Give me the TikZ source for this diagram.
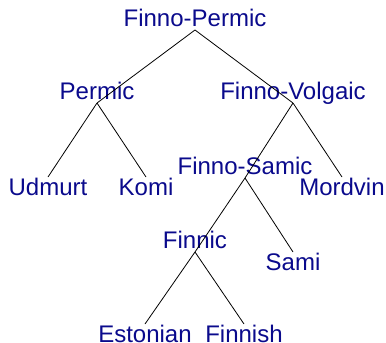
\documentclass[tikz,border=0pt]{standalone}
\usepackage{fontspec}
\setmainfont{Liberation Sans}
\definecolor{labelblue}{RGB}{10,10,140}
\begin{document}
\begin{tikzpicture}[x=1pt,y=-1pt,
  inner/.style={anchor=base,inner sep=0pt,text=labelblue,font=\fontsize{24}{28}\selectfont,yshift=3.5pt},
  leaf/.style={anchor=base,inner sep=0pt,text=labelblue,font=\fontsize{24}{28}\selectfont,yshift=-18pt},
  edge/.style={draw=black,line width=0.8pt}]
\useasboundingbox (0,0) rectangle (386,343);
% tree points
\coordinate (fp) at (195,30);
\coordinate (perm) at (97,103);
\coordinate (fv) at (293,103);
\coordinate (udm) at (48,177);
\coordinate (komi) at (146,177);
\coordinate (fs) at (245,178);
\coordinate (mord) at (342,177);
\coordinate (finnic) at (195,252);
\coordinate (sami) at (293,252);
\coordinate (est) at (145,324);
\coordinate (fin) at (244,324);
% labels
\node[inner] (lfp) at (fp) {Finno-Permic};
\node[inner] (lperm) at (perm) {Permic};
\node[inner] (lfv) at (fv) {Finno-Volgaic};
\node[inner] (lfs) at (fs) {Finno-Samic};
\node[inner] (lfinnic) at (finnic) {Finnic};
\node[leaf] (ludm) at (udm) {Udmurt};
\node[leaf] (lkomi) at (komi) {Komi};
\node[leaf] (lmord) at (mord) {Mordvin};
\node[leaf] (lsami) at (sami) {Sami};
\node[leaf] (lest) at (est) {Estonian};
\node[leaf] (lfin) at (fin) {Finnish};
% edges
\draw[edge] (fp) -- (perm);
\draw[edge] (fp) -- (fv);
\draw[edge] (perm) -- (udm);
\draw[edge] (perm) -- (komi);
\draw[edge] (fv) -- (fs);
\draw[edge] (fv) -- (mord);
\draw[edge] (fs) -- (finnic);
\draw[edge] (fs) -- (sami);
\draw[edge] (finnic) -- (est);
\draw[edge] (finnic) -- (fin);
\end{tikzpicture}
\end{document}
